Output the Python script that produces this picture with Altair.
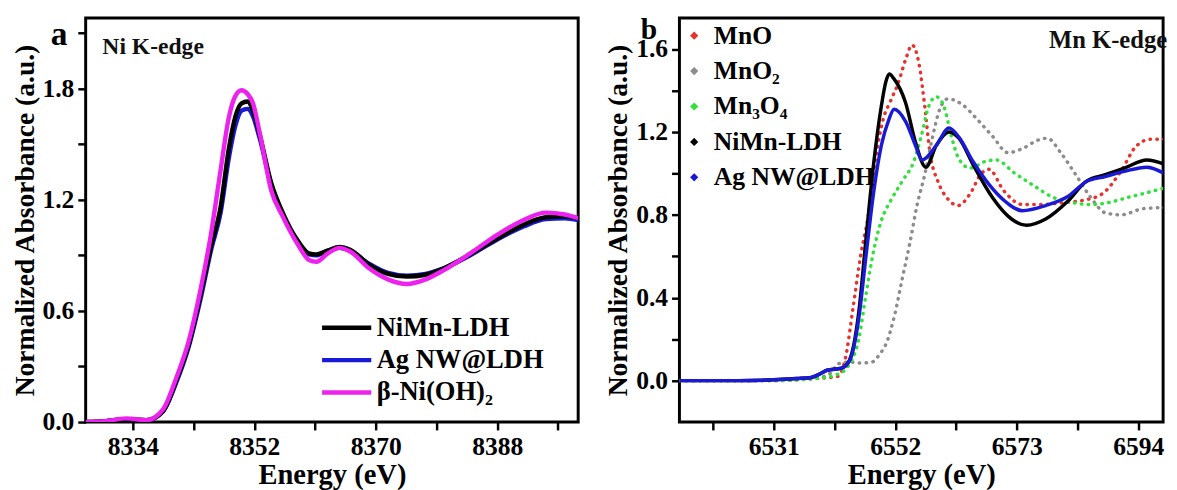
import altair as alt
import pandas as pd

FONT = "Liberation Serif"

# ---------------- Panel a : Ni K-edge ----------------
a_energy = [8327, 8330, 8333, 8336, 8338.5, 8340.5, 8342.3, 8344, 8345.6, 8347, 8348.2, 8349.2,
            8350.1, 8351, 8351.8, 8352.8, 8354.5, 8356.2, 8358.5, 8360.1, 8361.2, 8362.9, 8364.6,
            8366.2, 8369, 8371.8, 8374.6, 8377.4, 8380.1, 8384, 8388, 8391.9, 8395.2, 8398, 8400]
a_bnioh = [0.0, 0.005, 0.02, 0.01, 0.07, 0.245, 0.44, 0.71, 1.02, 1.36, 1.64, 1.76,
           1.79, 1.77, 1.72, 1.56, 1.25, 1.11, 0.955, 0.875, 0.865, 0.91, 0.94,
           0.92, 0.83, 0.77, 0.745, 0.77, 0.82, 0.91, 1.01, 1.09, 1.13, 1.12, 1.10]
a_nimn = [0.0, 0.005, 0.015, 0.01, 0.06, 0.23, 0.42, 0.68, 0.95, 1.16, 1.47, 1.65,
          1.72, 1.73, 1.68, 1.55, 1.29, 1.13, 0.975, 0.91, 0.905, 0.925, 0.945,
          0.93, 0.85, 0.80, 0.785, 0.795, 0.83, 0.905, 0.99, 1.065, 1.105, 1.11, 1.10]
a_agnw = [0.0, 0.005, 0.015, 0.01, 0.06, 0.22, 0.41, 0.66, 0.93, 1.13, 1.42, 1.60,
          1.68, 1.69, 1.65, 1.53, 1.28, 1.12, 0.97, 0.905, 0.90, 0.925, 0.94,
          0.925, 0.855, 0.805, 0.79, 0.80, 0.83, 0.90, 0.985, 1.055, 1.095, 1.10, 1.09]
a_names = ["NiMn-LDH", "Ag NW@LDH", "β-Ni(OH)₂"]
a_colors = ["#000000", "#1a1ad6", "#ee22ee"]
a_xticks = [8334, 8343, 8352, 8361, 8370, 8379, 8388, 8397]
a_yticks = [0.0, 0.3, 0.6, 0.9, 1.2, 1.5, 1.8, 2.1]

# ---------------- Panel b : Mn K-edge ----------------
b_mno_e = [6514.7, 6530, 6538, 6542, 6543.4, 6544.7, 6546, 6547.3, 6548.6, 6549.9, 6551.2, 6552.5,
           6553.8, 6554.9, 6556.1, 6557.1, 6558, 6559.4, 6561, 6562.9, 6564.9, 6566.9, 6568.2,
           6570.8, 6574, 6577.3, 6581.2, 6584.4, 6587.7, 6591, 6593.6, 6596.1, 6598.5]
b_mno_v = [0.0, 0.0, 0.01, 0.02, 0.11, 0.35, 0.6, 0.79, 1.07, 1.26, 1.35, 1.435,
           1.55, 1.62, 1.53, 1.325, 1.10, 0.96, 0.88, 0.845, 0.90, 1.0, 1.02,
           0.915, 0.85, 0.85, 0.86, 0.87, 0.90, 1.01, 1.13, 1.165, 1.165]
b_mno2_e = [6514.7, 6530, 6538, 6541, 6542, 6544, 6546, 6548, 6549.3, 6550.6, 6551.9, 6553.2,
            6554.5, 6555.8, 6557.1, 6558.4, 6559.7, 6561.1, 6563.7, 6566.2, 6568.8, 6571.5,
            6574, 6576.6, 6578.3, 6580.6, 6583.2, 6585.8, 6588.3, 6591, 6594.9, 6598.5]
b_mno2_v = [0.0, 0.0, 0.01, 0.04, 0.08, 0.09, 0.085, 0.09, 0.127, 0.19, 0.317, 0.49,
            0.66, 0.85, 0.994, 1.17, 1.31, 1.36, 1.33, 1.26, 1.18, 1.10,
            1.12, 1.16, 1.17, 1.10, 0.994, 0.884, 0.81, 0.80, 0.83, 0.835]
b_mn3o4_e = [6514.7, 6530, 6538, 6542, 6544.1, 6545.7, 6547, 6548.3, 6549.6, 6551.2, 6553.2,
             6555.2, 6556.5, 6557.8, 6559.1, 6560.4, 6561.7, 6563, 6564.9, 6567.5, 6569.4,
             6572.7, 6576, 6579.3, 6582.5, 6585.8, 6589, 6592.3, 6595.5, 6598.5]
b_mn3o4_v = [0.0, 0.0, 0.01, 0.03, 0.08, 0.2, 0.426, 0.63, 0.773, 0.868, 0.962,
             1.057, 1.18, 1.325, 1.37, 1.325, 1.18, 1.07, 1.026, 1.057, 1.065,
             1.0, 0.94, 0.884, 0.86, 0.85, 0.86, 0.885, 0.907, 0.93]
b_nimn_e = [6514.7, 6525, 6535, 6537.5, 6538.8, 6540.2, 6542.7, 6544.1, 6545.7, 6547, 6548.3,
            6549.6, 6550.4, 6551.0, 6551.7, 6553.8, 6555.5, 6557.3, 6559.1, 6561.3, 6563,
            6565.5, 6568.8, 6572.1, 6574.7, 6578, 6581.9, 6585, 6588.3, 6591.6, 6595.5, 6598.5]
b_nimn_v = [0.0, 0.0, 0.01, 0.015, 0.03, 0.05, 0.06, 0.10, 0.33, 0.70, 1.055,
            1.325, 1.445, 1.48, 1.46, 1.34, 1.15, 1.03, 1.135, 1.20, 1.17,
            1.04, 0.884, 0.78, 0.75, 0.78, 0.868, 0.962, 0.994, 1.026, 1.065, 1.045]
b_agnw_e = [6514.7, 6525, 6535, 6537.5, 6538.8, 6540.2, 6542.7, 6544.1, 6545.7, 6547, 6548.3,
            6549.6, 6550.9, 6551.8, 6553.8, 6555.5, 6556.6, 6559.1, 6561.3, 6563, 6565.5,
            6568.2, 6570.8, 6574, 6578, 6581.9, 6585, 6588.3, 6591.6, 6595.5, 6598.5]
b_agnw_v = [0.0, 0.0, 0.01, 0.015, 0.03, 0.05, 0.06, 0.095, 0.30, 0.615, 0.915,
            1.135, 1.26, 1.31, 1.25, 1.135, 1.065, 1.135, 1.22, 1.175, 1.055,
            0.947, 0.87, 0.82, 0.845, 0.89, 0.96, 0.985, 1.01, 1.03, 1.0]
b_names = ["MnO", "MnO₂", "Mn₃O₄", "NiMn-LDH", "Ag NW@LDH"]
b_colors = ["#e8302c", "#8c8c8c", "#2ee23a", "#000000", "#1a1ad6"]
b_xticks = [6520.5, 6531, 6541.5, 6552, 6562.5, 6573, 6583.5, 6594]
b_yticks = [0.0, 0.2, 0.4, 0.6, 0.8, 1.0, 1.2, 1.4, 1.6]

# ---------------- tables ----------------
df_a = pd.concat([
    pd.DataFrame({"E": a_energy, "A": a_nimn, "series": a_names[0]}),
    pd.DataFrame({"E": a_energy, "A": a_agnw, "series": a_names[1]}),
    pd.DataFrame({"E": a_energy, "A": a_bnioh, "series": a_names[2]}),
], ignore_index=True)

df_b = pd.concat([
    pd.DataFrame({"E": b_mno_e, "A": b_mno_v, "series": b_names[0]}),
    pd.DataFrame({"E": b_mno2_e, "A": b_mno2_v, "series": b_names[1]}),
    pd.DataFrame({"E": b_mn3o4_e, "A": b_mn3o4_v, "series": b_names[2]}),
    pd.DataFrame({"E": b_nimn_e, "A": b_nimn_v, "series": b_names[3]}),
    pd.DataFrame({"E": b_agnw_e, "A": b_agnw_v, "series": b_names[4]}),
], ignore_index=True)

# ---------------- panel a ----------------
xa = alt.X("E:Q", title="Energy (eV)",
           scale=alt.Scale(domain=[8327, 8400], nice=False, zero=False),
           axis=alt.Axis(values=a_xticks,
                         labelExpr="(datum.value - 8334) % 18 == 0 ? '' + datum.value : ''"))
ya = alt.Y("A:Q", title="Normalized Absorbance (a.u.)",
           scale=alt.Scale(domain=[0, 2.18], nice=False, zero=False),
           axis=alt.Axis(values=a_yticks,
                         labelExpr="round(datum.value * 10) % 6 == 0 ? format(datum.value, '.1f') : ''"))
legend_a = alt.Legend(title=None, orient="none", legendX=238, legendY=302,
                      symbolType="stroke", symbolSize=2500, symbolStrokeWidth=4.5,
                      clipHeight=26, rowPadding=6,
                      labelFont=FONT, labelFontSize=27, labelFontWeight="bold", labelLimit=400,
                      labelColor="black", labelOffset=3)

a_layers = []
for name in [a_names[1], a_names[0], a_names[2]]:
    a_layers.append(
        alt.Chart(df_a).transform_filter(alt.datum.series == name)
        .mark_line(strokeWidth=4.5, interpolate="monotone", clip=True)
        .encode(x=xa, y=ya,
                stroke=alt.Stroke("series:N", scale=alt.Scale(domain=a_names, range=a_colors),
                                  legend=legend_a))
    )

txt_a = alt.Chart(pd.DataFrame({"t": ["a"]})).mark_text(
    font=FONT, fontSize=34, fontWeight="bold", align="center", baseline="middle", color="black"
).encode(text="t:N", x=alt.value(-27), y=alt.value(17))
txt_ni = alt.Chart(pd.DataFrame({"t": ["Ni K-edge"]})).mark_text(
    font=FONT, fontSize=24, fontWeight="bold", align="left", baseline="middle", color="#111"
).encode(text="t:N", x=alt.value(17), y=alt.value(30))

panel_a = alt.layer(*a_layers, txt_a, txt_ni).properties(width=501, height=411)

# ---------------- panel b ----------------
xb = alt.X("E:Q", title="Energy (eV)",
           scale=alt.Scale(domain=[6514.7, 6598.3], nice=False, zero=False),
           axis=alt.Axis(values=b_xticks,
                         labelExpr="(datum.value - 6531) % 21 == 0 ? '' + datum.value : ''"))
yb = alt.Y("A:Q", title="Normalized Absorbance (a.u.)",
           scale=alt.Scale(domain=[-0.2, 1.75], nice=False, zero=False),
           axis=alt.Axis(values=b_yticks,
                         labelExpr="round(datum.value * 10) % 4 == 0 ? format(datum.value, '.1f') : ''"))

b_layers = []
for i in range(3):
    b_layers.append(
        alt.Chart(df_b).transform_filter(alt.datum.series == b_names[i])
        .mark_line(color=b_colors[i], strokeWidth=3.5, strokeDash=[0.5, 6.5], strokeCap="round",
                   interpolate="monotone", clip=True)
        .encode(x=xb, y=yb)
    )
for i in [3, 4]:
    b_layers.append(
        alt.Chart(df_b).transform_filter(alt.datum.series == b_names[i])
        .mark_line(color=b_colors[i], strokeWidth=3.5, interpolate="monotone", clip=True)
        .encode(x=xb, y=yb)
    )

# legends of a concatenated chart are placed relative to the first panel's plot origin
legend_b = alt.Legend(title=None, orient="none", legendX=606, legendY=5,
                      symbolType="diamond", symbolSize=70, symbolOpacity=1, symbolStrokeWidth=0,
                      labelFont=FONT, labelFontSize=26, labelFontWeight="bold", labelLimit=400,
                      labelColor="black", labelOffset=7, rowPadding=10)
b_legend_pts = alt.Chart(df_b).mark_point(shape="diamond", filled=True, opacity=0, size=1).encode(
    x=xb, y=yb,
    fill=alt.Fill("series:N", scale=alt.Scale(domain=b_names, range=b_colors), legend=legend_b))

txt_b = alt.Chart(pd.DataFrame({"t": ["b"]})).mark_text(
    font=FONT, fontSize=30, fontWeight="bold", align="center", baseline="middle", color="black"
).encode(text="t:N", x=alt.value(-31), y=alt.value(12))
txt_mn = alt.Chart(pd.DataFrame({"t": ["Mn K-edge"]})).mark_text(
    font=FONT, fontSize=25, fontWeight="bold", align="left", baseline="middle", color="#111"
).encode(text="t:N", x=alt.value(376), y=alt.value(22))

panel_b = alt.layer(*b_layers, b_legend_pts, txt_b, txt_mn).properties(width=492, height=411)

chart = (
    alt.hconcat(panel_a, panel_b, spacing=24)
    .properties(padding={"left": 2, "top": 1, "right": 0, "bottom": 0}, background="white")
    .configure_view(stroke="black", strokeWidth=3)
    .configure_axis(domain=False, grid=False, tickColor="black", tickWidth=2.5, tickSize=8,
                    labelFont=FONT, labelFontSize=26, labelFontWeight="bold", labelColor="black",
                    labelPadding=4, labelFlush=False, labelOverlap=False,
                    titleFont=FONT, titleFontSize=28, titleFontWeight="bold", titleColor="black")
    .configure_axisY(titlePadding=3)
    .configure_axisX(titlePadding=2, titleFontSize=29)
)

chart.save("out.html", embed_options={"renderer": "svg", "actions": False})
